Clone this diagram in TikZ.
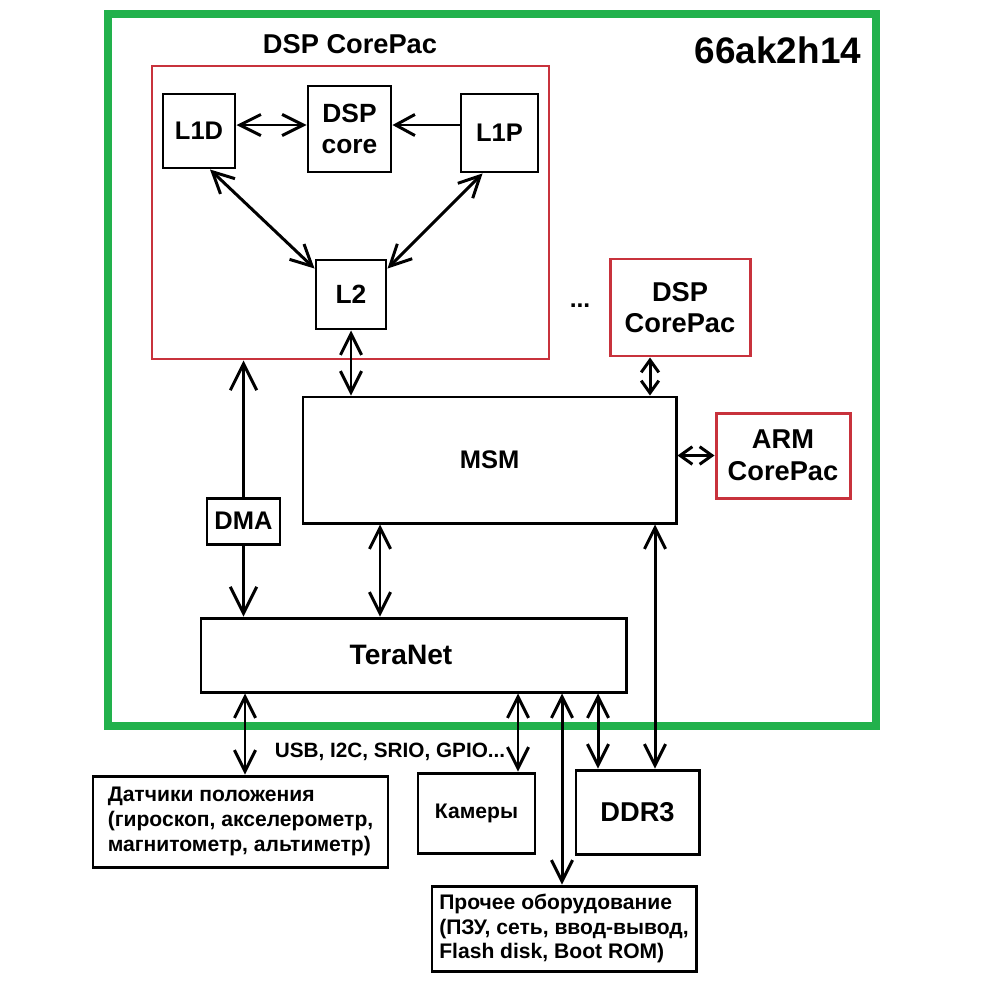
\documentclass[tikz,border=0pt]{standalone}
\usepackage{fontspec}
\setmainfont{Liberation Sans}
\usepackage{xcolor}
\usetikzlibrary{arrows.meta, positioning, calc}
\definecolor{chipGreen}{HTML}{22B14C}
\definecolor{coreRed}{HTML}{C8323C}
\tikzstyle{blk} = [rectangle, draw=black, line width=1.7pt, align=center, inner sep=0pt,
  font=\bfseries\fontsize{15.5}{18}\selectfont]
\tikzstyle{redblk} = [blk, draw=coreRed]
\tikzstyle{extblk} = [blk, align=left, font=\bfseries\fontsize{12}{14}\selectfont]
\tikzstyle{biarw} = [{Straight Barb[length=12pt,width=12pt]}-{Straight Barb[length=12pt,width=12pt]}, line width=1.7pt]
\tikzstyle{shortarw} = [{Straight Barb[length=7pt,width=10pt]}-{Straight Barb[length=7pt,width=10pt]}, line width=1.7pt]
\tikzstyle{arw} = [-{Straight Barb[length=11pt,width=12pt]}, line width=1.7pt]
\tikzstyle{bigarw} = [-{Straight Barb[length=15pt,width=15pt]}, line width=1.7pt]

\begin{document}
\begin{tikzpicture}
  \useasboundingbox (0,0) rectangle (20,-20);

  % Chip frame
  \node[draw=chipGreen, line width=4.5pt, minimum width=15.36cm, minimum height=14.24cm] (chip) at (9.84,-7.40) {};
  \node[font=\bfseries\fontsize{21}{24}\selectfont] (chipLbl) at (15.56,-1.0) {66ak2h14};

  % DSP CorePac (first)
  \node[redblk, minimum width=7.94cm, minimum height=5.86cm] (cpac) at (7.01,-4.25) {};
  \node[font=\bfseries\fontsize{15.5}{18}\selectfont] (cpacLbl) at (7.0,-0.88) {DSP CorePac};
  \node[blk, minimum width=1.44cm, minimum height=1.48cm, font=\bfseries\fontsize{14.5}{17}\selectfont] (l1d) at (3.98,-2.62) {L1D};
  \node[blk, minimum width=1.66cm, minimum height=1.72cm, font=\bfseries\fontsize{15}{18}\selectfont] (core) at (6.99,-2.58) {DSP\\core};
  \node[blk, minimum width=1.54cm, minimum height=1.56cm, font=\bfseries\fontsize{14.5}{17}\selectfont] (l1p) at (9.99,-2.66) {L1P};
  \node[blk, minimum width=1.40cm, minimum height=1.38cm, font=\bfseries\fontsize{15}{18}\selectfont] (l2) at (7.02,-5.89) {L2};

  % Other cores
  \node[font=\bfseries\fontsize{14}{17}\selectfont] (dots) at (11.6,-6.12) {...};
  \node[redblk, minimum width=2.80cm, minimum height=1.94cm] (dsp2) at (13.6,-6.15) {DSP\\CorePac};
  \node[redblk, minimum width=2.68cm, minimum height=1.70cm] (arm) at (15.66,-9.11) {ARM\\CorePac};

  % Interconnect
  \node[blk, minimum width=7.46cm, minimum height=2.52cm, font=\bfseries\fontsize{14.5}{17}\selectfont] (msm) at (9.79,-9.20) {MSM};
  \node[blk, minimum width=1.46cm, minimum height=0.92cm, font=\bfseries\fontsize{14.5}{17}\selectfont] (dma) at (4.87,-10.42) {DMA};
  \node[blk, minimum width=8.50cm, minimum height=1.48cm, font=\bfseries\fontsize{16}{18}\selectfont] (tera) at (8.27,-13.10) {TeraNet\hspace*{0.5cm}};

  % Peripherals
  \node[extblk, minimum width=5.90cm, minimum height=1.82cm] (sens) at (4.81,-16.43) {Датчики положения\\(гироскоп, акселерометр,\\магнитометр, альтиметр)};
  \node[blk, minimum width=2.34cm, minimum height=1.60cm, font=\bfseries\fontsize{12}{14}\selectfont] (cam) at (9.53,-16.26) {Камеры};
  \node[blk, minimum width=2.46cm, minimum height=1.68cm, font=\bfseries\fontsize{15.5}{18}\selectfont] (ddr) at (12.75,-16.24) {DDR3};
  \node[extblk, minimum width=5.28cm, minimum height=1.70cm] (other) at (11.28,-18.57) {Прочее оборудование\\(ПЗУ, сеть, ввод-вывод,\\Flash disk, Boot ROM)};
  \node[font=\bfseries\fontsize{11.8}{14}\selectfont] (busLbl) at (7.8,-15.04) {USB, I2C, SRIO, GPIO...};

  % Inside the CorePac
  \draw[biarw] ([yshift=0.12cm]l1d.east) -- ([yshift=0.12cm]l1d.east -| core.west);
  \draw[arw] ([yshift=0.16cm]l1p.west) -- ([yshift=0.16cm]l1p.west -| core.east);
  \draw[biarw] ([xshift=0.22cm]l1d.south) -- ([yshift=-0.2cm]l2.north west);
  \draw[biarw] ([xshift=-0.34cm]l1p.south) -- ([yshift=-0.2cm]l2.north east);

  % Cores to MSM
  \draw[biarw] (l2.south) -- (l2.south |- msm.north);
  \draw[shortarw] ([xshift=-0.6cm]dsp2.south) -- ([xshift=-0.6cm]dsp2.south |- msm.north);
  \draw[shortarw] (arm.west) -- (arm.west -| msm.east);

  % DMA and TeraNet
  \draw[bigarw] (dma.north) -- (dma.north |- cpac.south);
  \draw[bigarw] (dma.south) -- (dma.south |- tera.north);
  \draw[biarw] ([xshift=-2.19cm]msm.south) -- ([xshift=-2.19cm]msm.south |- tera.north);
  \draw[biarw] ([xshift=0.35cm]ddr.north) -- ([xshift=0.35cm]ddr.north |- msm.south);

  % TeraNet to peripherals
  \draw[biarw] ([xshift=0.09cm]sens.north) -- ([xshift=0.09cm]sens.north |- tera.south);
  \draw[biarw] ([xshift=0.83cm]cam.north) -- ([xshift=0.83cm]cam.north |- tera.south);
  \draw[biarw] ([xshift=-0.04cm]other.north) -- ([xshift=-0.04cm]other.north |- tera.south);
  \draw[biarw] ([xshift=-0.79cm]ddr.north) -- ([xshift=-0.79cm]ddr.north |- tera.south);
\end{tikzpicture}
\end{document}
